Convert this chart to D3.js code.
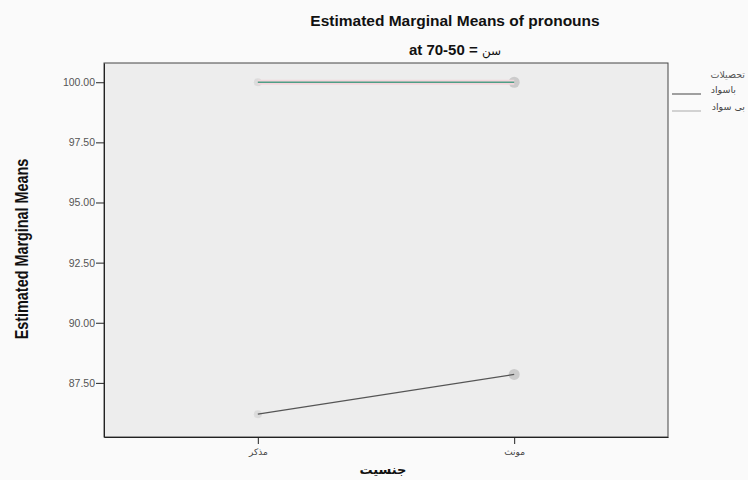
<!DOCTYPE html>
<html><head><meta charset="utf-8">
<script src="https://cdn.jsdelivr.net/npm/d3@7"></script>
<style>body{margin:0;background:#fafafa;}svg{display:block;}</style>
</head><body>
<script>
const categories = ["مذکر", "مونث"];
const seriesNames = ["باسواد", "بی سواد"];
const literate = [86.2, 87.85];
const illiterate = [100.0, 100.0];
const yTicks = [87.5, 90.0, 92.5, 95.0, 97.5, 100.0];

const W = 748, H = 480;
const m = {left: 104, right: 668, top: 63, bottom: 437};
const svg = d3.select("body").append("svg").attr("width", W).attr("height", H);
svg.append("rect").attr("width", W).attr("height", H).attr("fill", "#fafafa");

const x = d3.scalePoint().domain(categories).range([m.left, m.right]).padding(0.6);
const y = d3.scaleLinear().domain([85.25, 100.8]).range([m.bottom, m.top]);

// plot area
svg.append("rect").attr("x", m.left).attr("y", m.top)
  .attr("width", m.right - m.left).attr("height", m.bottom - m.top)
  .attr("fill", "#ededed").attr("stroke", "#444").attr("stroke-width", 1);

// y axis
const yAxis = d3.axisLeft(y).tickValues(yTicks).tickFormat(d3.format(".2f")).tickSize(8).tickSizeOuter(0);
const gy = svg.append("g").attr("transform", `translate(${m.left},0)`).call(yAxis);
gy.select(".domain").attr("stroke", "#222");
gy.selectAll(".tick line").attr("stroke", "#222");
gy.selectAll(".tick text").attr("font-family", "Liberation Sans, Arial, sans-serif")
  .attr("font-size", 10.5).attr("fill", "#555").attr("x", -9);

// x axis
const xAxis = d3.axisBottom(x).tickSize(7).tickSizeOuter(0);
const gx = svg.append("g").attr("transform", `translate(0,${m.bottom})`).call(xAxis);
gx.select(".domain").attr("stroke", "#222");
gx.selectAll(".tick line").attr("stroke", "#222");
gx.selectAll(".tick text").attr("font-family", "DejaVu Sans, sans-serif")
  .attr("font-size", 9).attr("fill", "#444").attr("dy", "0.9em");

// lines
const line = d3.line().x((d, i) => x(categories[i])).y(d => y(d));
const series = [
  {name: seriesNames[0], values: literate, color: "#555", legend: "#444"},
  {name: seriesNames[1], values: illiterate, color: "#4f9e86", legend: "#aaa"}
];
// faint markers
series.forEach(s => {
  svg.append("g").selectAll("circle").data(s.values).join("circle")
    .attr("cx", (d, i) => x(categories[i])).attr("cy", d => y(d))
    .attr("r", (d, i) => i === 1 ? 5.5 : 4).attr("fill", "#999").attr("opacity", (d, i) => i === 1 ? 0.4 : 0.2);
});
series.forEach(s => {
  if (s.name === seriesNames[1]) {
    svg.append("path").datum(s.values).attr("d", line).attr("fill", "none")
      .attr("stroke", "#f3d6dc").attr("stroke-width", 5);
  }
  svg.append("path").datum(s.values).attr("d", line).attr("fill", "none")
    .attr("stroke", s.color).attr("stroke-width", 1.3);
});

// titles
svg.append("text").attr("x", 455).attr("y", 26).attr("text-anchor", "middle")
  .attr("font-family", "Liberation Sans, Arial, sans-serif").attr("font-weight", "bold")
  .attr("font-size", 15.5).attr("fill", "#111").text("Estimated Marginal Means of pronouns");
const sub = svg.append("text").attr("x", 455).attr("y", 55).attr("text-anchor", "middle")
  .attr("direction", "ltr")
  .attr("font-family", "Liberation Sans, Arial, sans-serif")
  .attr("font-size", 15).attr("fill", "#111");
sub.append("tspan").attr("font-weight", "bold").text("at 70-50 = ");
sub.append("tspan").attr("font-family", "DejaVu Sans, sans-serif").attr("font-size", 12).text("سن");

svg.append("text").attr("transform", "translate(28,249) rotate(-90) scale(0.8,1)").attr("text-anchor", "middle")
  .attr("font-family", "Liberation Sans, Arial, sans-serif")
  .attr("font-weight", "bold").attr("font-size", 18).attr("fill", "#111")
  .text("Estimated Marginal Means");

svg.append("text").attr("x", 383).attr("y", 474).attr("text-anchor", "middle")
  .attr("font-family", "DejaVu Sans, sans-serif").attr("font-weight", "bold")
  .attr("font-size", 13).attr("fill", "#111").text("جنسیت");

// legend
const lg = svg.append("g");
lg.append("text").attr("x", 745).attr("y", 78).attr("text-anchor", "end")
  .attr("font-family", "DejaVu Sans, sans-serif").attr("font-size", 9.5).attr("fill", "#555").text("تحصیلات");
series.forEach((s, i) => {
  const yy = 94 + i * 17;
  lg.append("line").attr("x1", 672).attr("x2", 701).attr("y1", yy).attr("y2", yy)
    .attr("stroke", s.legend).attr("stroke-width", 1);
  lg.append("text").attr("x", i === 0 ? 736 : 745).attr("y", yy - 1).attr("text-anchor", "end")
    .attr("font-family", "DejaVu Sans, sans-serif").attr("font-size", 9.5).attr("fill", "#444").text(s.name);
});
</script>
</body></html>
